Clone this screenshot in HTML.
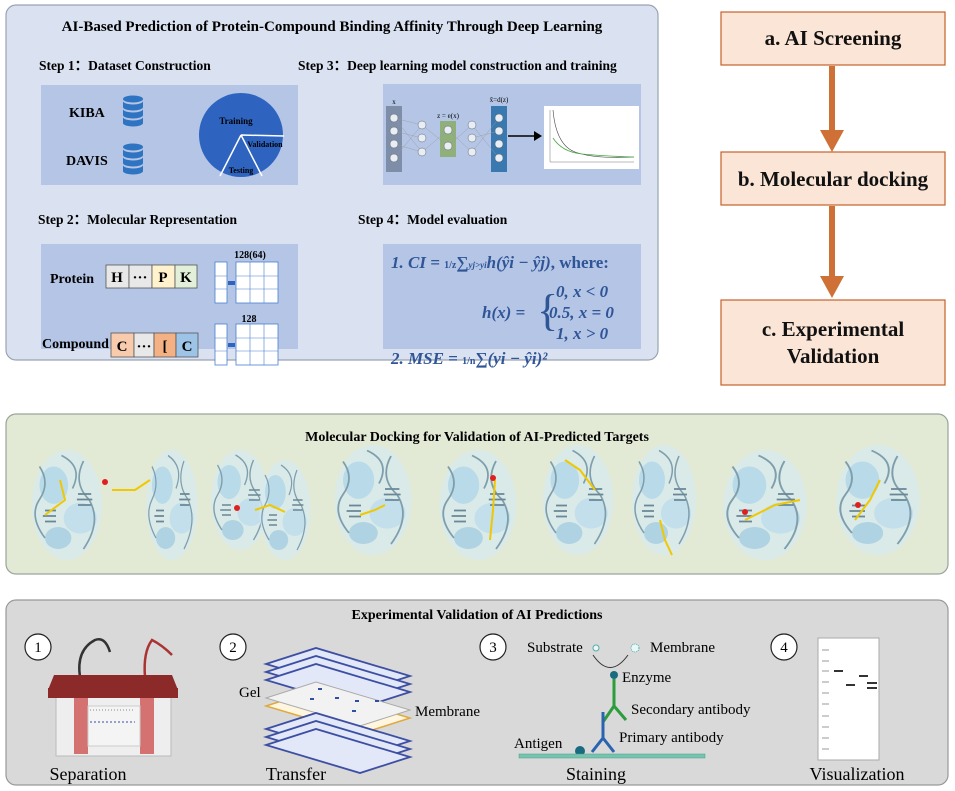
<!DOCTYPE html>
<html><head><meta charset="utf-8"><style>
html,body{margin:0;padding:0;background:#fff}
svg{display:block}
text{font-family:"Liberation Serif",serif}
</style></head><body>
<svg width="955" height="791" viewBox="0 0 955 791" xmlns="http://www.w3.org/2000/svg">
<defs>
<g id="prot">
 <ellipse cx="0" cy="0" rx="32" ry="50" fill="#d5e9f1" opacity="0.7"/>
 <ellipse cx="-12" cy="-18" rx="13" ry="17" fill="#b9dae8"/>
 <ellipse cx="12" cy="12" rx="15" ry="14" fill="#c2dfeb"/>
 <ellipse cx="-8" cy="30" rx="12" ry="10" fill="#b0d3e3"/>
 <path d="M-25,-35 q10,15 0,30 q-10,15 5,35 M15,-40 q-10,20 5,35 q12,20 -5,45 M-5,-45 q20,10 10,30" stroke="#7f9eac" stroke-width="1.5" fill="none"/>
 <path d="M-20,5 h10 M-22,10 h12 M-20,15 h10 M10,-10 h12 M9,-5 h14 M10,0 h12" stroke="#6a8796" stroke-width="1.5"/>
</g>
<g id="db">
 <ellipse cx="0" cy="0" rx="10" ry="3.5" fill="#2e74c0"/>
 <path d="M-10,2 v6 a10,3.5 0 0 0 20,0 v-6 a10,3.5 0 0 1 -20,0z" fill="#2e74c0"/>
 <path d="M-10,10 v6 a10,3.5 0 0 0 20,0 v-6 a10,3.5 0 0 1 -20,0z" fill="#2e74c0"/>
 <path d="M-10,18 v6 a10,3.5 0 0 0 20,0 v-6 a10,3.5 0 0 1 -20,0z" fill="#2e74c0"/>
</g>
<g id="sheet"><path d="M0,16 L50,0 L144,28 L94,44Z" fill="#e3e8f8" stroke="#3d4fa3" stroke-width="1.8"/></g>
</defs>

<!-- Top-left panel -->
<rect x="6" y="5" width="652" height="355" rx="10" fill="#dae2f1" stroke="#9aa3b3" stroke-width="1.2"/>
<text x="332" y="31" font-size="15" font-weight="bold" text-anchor="middle">AI-Based Prediction of Protein-Compound Binding Affinity Through Deep Learning</text>
<text x="39" y="70" font-size="13.5" font-weight="bold">Step 1：Dataset  Construction</text>
<text x="298" y="70" font-size="13.5" font-weight="bold">Step 3：Deep learning model construction and training</text>
<text x="38" y="224" font-size="13.5" font-weight="bold">Step 2：Molecular Representation</text>
<text x="358" y="224" font-size="13.5" font-weight="bold">Step 4：Model evaluation</text>

<rect x="41" y="85" width="257" height="100" fill="#b4c5e6"/>
<text x="69" y="117" font-size="14" font-weight="bold">KIBA</text>
<text x="66" y="165" font-size="14" font-weight="bold">DAVIS</text>
<use href="#db" x="133" y="99"/>
<use href="#db" x="133" y="147"/>
<circle cx="241" cy="135" r="42" fill="#2e64c0"/>
<path d="M241,135 L262,176 M241,135 L220,176 M241,135 L284,136" stroke="#fff" stroke-width="1.5"/>
<text x="236" y="124" font-size="9" font-weight="bold" text-anchor="middle">Training</text>
<text x="265" y="147" font-size="8" font-weight="bold" text-anchor="middle">Validation</text>
<text x="241" y="173" font-size="8" font-weight="bold" text-anchor="middle">Testing</text>

<rect x="383" y="84" width="258" height="101" fill="#b4c5e6"/>
<rect x="386" y="106" width="16" height="66" fill="#7f8ea8"/>
<rect x="440" y="121" width="16" height="36" fill="#8fb07a"/>
<rect x="491" y="106" width="16" height="66" fill="#3a78b0"/>
<g stroke="#999" stroke-width="0.4"><path d="M394,118 L422,125 M394,131 L422,138 M394,144 L422,152 M394,118 L422,152 M394,158 L422,125 M422,125 L448,146 M422,152 L448,130 M448,130 L472,152 M448,146 L472,125 M472,125 L499,158 M472,152 L499,118 M472,138 L499,131"/></g>
<g fill="#e8eef6" stroke="#666" stroke-width="0.5">
<circle cx="394" cy="118" r="4"/><circle cx="394" cy="131" r="4"/><circle cx="394" cy="144" r="4"/><circle cx="394" cy="158" r="4"/>
<circle cx="422" cy="125" r="4"/><circle cx="422" cy="138" r="4"/><circle cx="422" cy="152" r="4"/>
<circle cx="448" cy="130" r="4"/><circle cx="448" cy="146" r="4"/>
<circle cx="472" cy="125" r="4"/><circle cx="472" cy="138" r="4"/><circle cx="472" cy="152" r="4"/>
<circle cx="499" cy="118" r="4"/><circle cx="499" cy="131" r="4"/><circle cx="499" cy="144" r="4"/><circle cx="499" cy="158" r="4"/>
</g>
<text x="394" y="104" font-size="7" text-anchor="middle">x</text>
<text x="448" y="118" font-size="7" text-anchor="middle">z = e(x)</text>
<text x="499" y="102" font-size="7" text-anchor="middle">x̂=d(z)</text>
<path d="M508,136 H536" stroke="#000" stroke-width="1.5"/><path d="M534,131 L542,136 L534,141Z"/>
<rect x="544" y="106" width="95" height="63" fill="#fff"/>
<path d="M550,110 L550,162 L634,162" stroke="#777" stroke-width="0.5" fill="none"/>
<path d="M553,110 Q556,145 575,152 T634,157" stroke="#444" stroke-width="0.6" fill="none"/>
<path d="M553,138 Q562,152 582,154 T634,157" stroke="#4a4" stroke-width="0.8" fill="none"/>

<rect x="41" y="244" width="257" height="105" fill="#b4c5e6"/>
<text x="50" y="283" font-size="14" font-weight="bold">Protein</text>
<text x="42" y="348" font-size="14" font-weight="bold">Compound</text>
<g stroke="#555" stroke-width="0.8">
<rect x="106" y="265" width="23" height="23" fill="#e8e8e8"/><rect x="129" y="265" width="23" height="23" fill="#e8e8e8"/><rect x="152" y="265" width="23" height="23" fill="#fff2cc"/><rect x="175" y="265" width="22" height="23" fill="#e2efd9"/>
<rect x="111" y="333" width="23" height="24" fill="#f8cbad"/><rect x="134" y="333" width="20" height="24" fill="#e8e8e8"/><rect x="154" y="333" width="22" height="24" fill="#f4b183"/><rect x="176" y="333" width="22" height="24" fill="#9dc3e6"/>
</g>
<g font-size="15" font-weight="bold" text-anchor="middle">
<text x="117" y="282">H</text><text x="140" y="282">···</text><text x="163" y="282">P</text><text x="186" y="282">K</text>
<text x="122" y="351">C</text><text x="144" y="351">···</text><text x="165" y="351">[</text><text x="187" y="351">C</text>
</g>
<text x="250" y="258" font-size="10" font-weight="bold" text-anchor="middle">128(64)</text>
<text x="249" y="322" font-size="10" font-weight="bold" text-anchor="middle">128</text>
<g fill="#fff" stroke="#4a7fd0" stroke-width="0.8">
<rect x="215" y="262" width="12" height="41"/><rect x="236" y="262" width="42" height="41"/>
<rect x="215" y="324" width="12" height="41"/><rect x="236" y="324" width="42" height="41"/>
</g>
<g stroke="#4a7fd0" stroke-width="0.6"><path d="M215,276 h12 M215,289 h12 M236,276 h42 M236,289 h42 M250,262 v41 M264,262 v41 M215,338 h12 M215,351 h12 M236,338 h42 M236,351 h42 M250,324 v41 M264,324 v41"/></g>
<rect x="228" y="281" width="7" height="4" fill="#2e64c0"/><rect x="228" y="343" width="7" height="4" fill="#2e64c0"/>

<rect x="383" y="244" width="258" height="105" fill="#b4c5e6"/>
<g fill="#2f5597" font-weight="bold">
<text x="391" y="268" font-size="17"><tspan font-style="italic">1. CI = </tspan><tspan font-size="10">1/z</tspan>∑<tspan font-size="9" font-style="italic">yj&gt;yi</tspan><tspan font-style="italic">h(ŷi − ŷj)</tspan>, where:</text>
<text x="482" y="318" font-size="17" font-style="italic">h(x) =</text>
<text x="537" y="325" font-size="44" font-weight="normal">{</text>
<text x="556" y="297" font-size="17" font-style="italic">0, x &lt; 0</text>
<text x="549" y="318" font-size="17" font-style="italic">0.5, x = 0</text>
<text x="556" y="339" font-size="17" font-style="italic">1, x &gt; 0</text>
<text x="391" y="364" font-size="17"><tspan font-style="italic">2. MSE = </tspan><tspan font-size="10">1/n</tspan>∑<tspan font-style="italic">(yi − ŷi)²</tspan></text>
</g>

<!-- Right flow -->
<g fill="#fbe5d6" stroke="#c4622a" stroke-width="1.2">
<rect x="721" y="12" width="224" height="53"/>
<rect x="721" y="152" width="224" height="53"/>
<rect x="721" y="300" width="224" height="85"/>
</g>
<g font-size="21" font-weight="bold" text-anchor="middle" fill="#111">
<text x="833" y="45">a. AI Screening</text>
<text x="833" y="186">b. Molecular docking</text>
<text x="833" y="336">c. Experimental</text>
<text x="833" y="363">Validation</text>
</g>
<g fill="#cf7136">
<rect x="829" y="66" width="6" height="70"/><path d="M820,130 L844,130 L832,152Z"/>
<rect x="829" y="206" width="6" height="75"/><path d="M820,276 L844,276 L832,298Z"/>
</g>

<!-- Middle panel -->
<rect x="6" y="414" width="942" height="160" rx="10" fill="#e2ead6" stroke="#9aa39a" stroke-width="1.2"/>
<text x="477" y="441" font-size="14" font-weight="bold" text-anchor="middle">Molecular Docking for Validation of AI-Predicted Targets</text>
<use href="#prot" transform="translate(67,505) scale(1.1,1.1)"/>
<use href="#prot" transform="translate(172,505) scale(0.8,1.1)"/>
<use href="#prot" transform="translate(240,500) scale(0.9,1.0)"/>
<use href="#prot" transform="translate(285,510) scale(0.8,1.0)"/>
<use href="#prot" transform="translate(373,500) scale(1.2,1.1)"/>
<use href="#prot" transform="translate(478,505) scale(1.2,1.1)"/>
<use href="#prot" transform="translate(578,500) scale(1.1,1.1)"/>
<use href="#prot" transform="translate(664,500) scale(1.0,1.1)"/>
<use href="#prot" transform="translate(765,505) scale(1.3,1.1)"/>
<use href="#prot" transform="translate(878,500) scale(1.3,1.1)"/>
<g stroke="#f0c800" stroke-width="2" fill="none">
<path d="M60,480 L65,500 L45,515"/>
<path d="M112,490 L135,490 L150,480"/>
<path d="M255,510 L270,505 L285,512"/>
<path d="M360,515 L375,510 L385,505"/>
<path d="M495,480 L493,510 L490,540"/>
<path d="M565,460 L580,470 L595,490"/>
<path d="M660,520 L665,540 L672,555"/>
<path d="M745,520 L775,505 L800,500"/>
<path d="M855,520 L870,500 L880,480"/>
</g>
<g fill="#e02020"><circle cx="105" cy="482" r="3"/><circle cx="237" cy="508" r="3"/><circle cx="493" cy="478" r="3"/><circle cx="745" cy="512" r="3"/><circle cx="858" cy="505" r="3"/></g>

<!-- Bottom panel -->
<rect x="6" y="600" width="942" height="185" rx="10" fill="#d9d9d9" stroke="#999" stroke-width="1.2"/>
<text x="477" y="619" font-size="14" font-weight="bold" text-anchor="middle">Experimental Validation of AI Predictions</text>
<g fill="#fff" stroke="#222" stroke-width="1.2">
<circle cx="38" cy="647" r="13"/><circle cx="233" cy="647" r="13"/><circle cx="493" cy="647" r="13"/><circle cx="784" cy="647" r="13"/>
</g>
<g font-size="15" text-anchor="middle"><text x="38" y="652" font-family="Liberation Sans">1</text><text x="233" y="652" font-family="Liberation Sans">2</text><text x="493" y="652" font-family="Liberation Sans">3</text><text x="784" y="652" font-family="Liberation Sans">4</text></g>

<!-- separation -->
<path d="M80,677 Q76,650 95,640 Q105,636 110,652" stroke="#333" stroke-width="2.5" fill="none"/>
<path d="M145,677 Q143,652 152,640 Q162,645 172,655" stroke="#a33" stroke-width="2.5" fill="none"/>
<rect x="56" y="690" width="115" height="66" fill="#eee" stroke="#bbb"/>
<path d="M48,690 L54,675 L172,675 L178,690Z" fill="#8c2a2a"/>
<rect x="48" y="688" width="130" height="10" fill="#8c2a2a"/>
<rect x="74" y="698" width="14" height="56" fill="#d47272"/>
<rect x="140" y="698" width="14" height="56" fill="#d47272"/>
<rect x="88" y="706" width="52" height="40" fill="#f4f4f4" stroke="#ccc"/>
<path d="M90,722 H135" stroke="#3050a0" stroke-dasharray="2,2"/>
<path d="M90,710 H135" stroke="#888" stroke-dasharray="1,2"/>

<!-- transfer -->
<use href="#sheet" x="266" y="648"/><use href="#sheet" x="266" y="656"/><use href="#sheet" x="266" y="664"/>
<path d="M266,706 L316,690 L410,718 L360,734Z" fill="#fff6df" stroke="#e0a840" stroke-width="1.5"/>
<path d="M266,698 L316,682 L410,710 L360,726Z" fill="#f2f2f2" stroke="#aaa"/>
<g fill="#2e50a0"><rect x="318" y="688" width="4" height="2"/><rect x="335" y="697" width="4" height="2"/><rect x="355" y="700" width="4" height="2"/><rect x="310" y="698" width="4" height="2"/><rect x="375" y="700" width="4" height="2"/><rect x="352" y="710" width="4" height="2"/></g>
<use href="#sheet" x="266" y="713"/><use href="#sheet" x="266" y="721"/><use href="#sheet" x="266" y="729"/>
<text x="239" y="697" font-size="15">Gel</text>
<text x="415" y="716" font-size="15">Membrane</text>

<!-- staining -->
<text x="527" y="652" font-size="15">Substrate</text>
<text x="650" y="652" font-size="15">Membrane</text>
<circle cx="596" cy="648" r="3" fill="#e8f8f8" stroke="#5aa"/>
<circle cx="635" cy="648" r="4" fill="#e8f8f8" stroke="#5aa" stroke-dasharray="1,1"/>
<path d="M593,655 Q610,680 628,655" stroke="#333" fill="none"/>
<circle cx="614" cy="675" r="4" fill="#1a6a80"/>
<text x="622" y="682" font-size="15">Enzyme</text>
<path d="M614,679 V706 L603,722 M614,706 L626,720" stroke="#2c9c3c" stroke-width="3" fill="none"/>
<text x="631" y="714" font-size="15">Secondary antibody</text>
<path d="M603,712 V738 L592,752 M603,738 L614,752" stroke="#2a64b0" stroke-width="3" fill="none"/>
<text x="619" y="742" font-size="15">Primary antibody</text>
<circle cx="580" cy="751" r="5" fill="#1a6a80"/>
<text x="514" y="748" font-size="15">Antigen</text>
<rect x="519" y="754" width="186" height="4" fill="#7cc0b0" stroke="#3a8" stroke-width="0.5"/>

<!-- visualization -->
<rect x="818" y="638" width="61" height="122" fill="#fff" stroke="#aaa"/>
<g stroke="#bbb" stroke-width="1.5"><path d="M822,650 h7 M822,661 h7 M822,671 h7 M822,682 h7 M822,693 h7 M822,704 h7 M822,716 h7 M822,727 h7 M822,738 h7 M822,749 h7"/></g>
<g stroke="#333" stroke-width="2"><path d="M834,671 h9 M846,685 h9 M859,676 h9 M877,683 h-10 M877,688 h-10"/></g>
<g font-size="18" text-anchor="middle"><text x="88" y="780">Separation</text><text x="296" y="780">Transfer</text><text x="596" y="780">Staining</text><text x="857" y="780">Visualization</text></g>
</svg>
</body></html>
